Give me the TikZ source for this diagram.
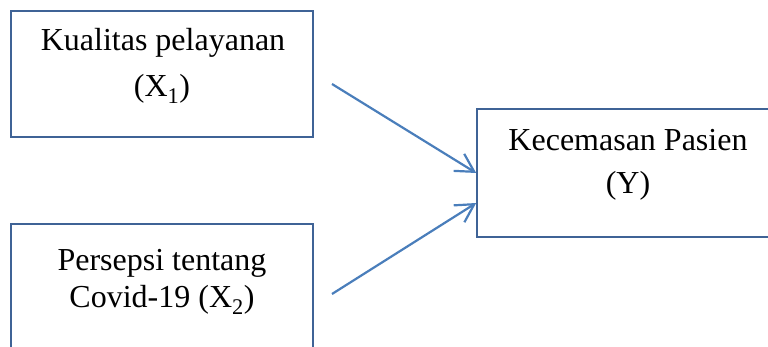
\documentclass[tikz,border=0pt]{standalone}
\usepackage{fontspec}
\setmainfont{Liberation Serif}
\usetikzlibrary{arrows.meta}
\definecolor{boxline}{HTML}{3F6396}
\definecolor{arrowline}{HTML}{4A7EBB}
\tikzset{
  varbox/.style={draw=boxline, line width=1.6pt, minimum width=302pt, inner sep=0pt},
  label line/.style={anchor=base, inner sep=0pt, font=\fontsize{32}{32}\selectfont},
  link/.style={draw=arrowline, line width=2.2pt,
    -{Straight Barb[length=18pt,width=20pt,line width=2.2pt]}}
}
\begin{document}
\begin{tikzpicture}[x=1pt,y=-1pt]
  \clip (0,0) rectangle (768,347);
  % independent variables
  \node[varbox, minimum height=126pt] (x1) at (162,74) {};
  \node[varbox, minimum height=126pt] (x2) at (162,287) {};
  % dependent variable
  \node[varbox, minimum height=128pt] (y) at (628,173) {};

  \node[label line] (x1a) at (163,51) {Kualitas pelayanan};
  \node[label line] (x1b) at (162,97) {(X\textsubscript{1})};
  \node[label line] (x2a) at (162,271) {Persepsi tentang};
  \node[label line] (x2b) at (162,308) {Covid-19 (X\textsubscript{2})};
  \node[label line] (ya) at (628,151) {Kecemasan Pasien};
  \node[label line] (yb) at (628,194) {(Y)};

  % arrows into the dependent variable
  \coordinate (s1) at (332,84);
  \coordinate (s2) at (332,294);
  \coordinate (t2) at ([yshift=-30pt]y.west);
  \draw[link] (s1) -- (y.west);
  \draw[link] (s2) -- (t2);
\end{tikzpicture}
\end{document}
